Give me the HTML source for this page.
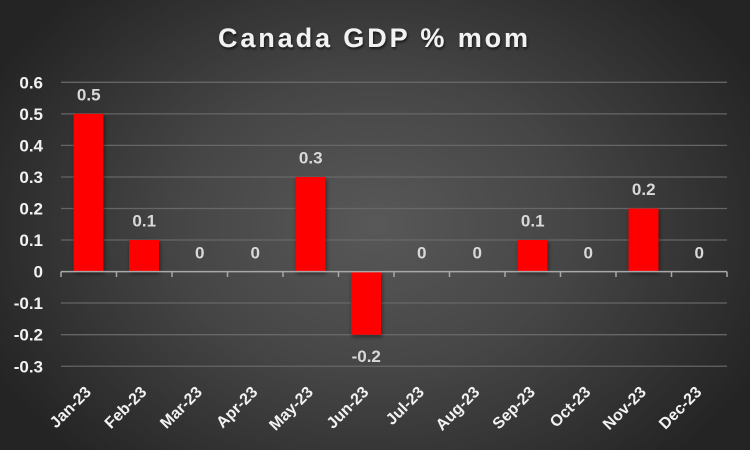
<!DOCTYPE html>
<html>
<head>
<meta charset="utf-8">
<style>
html,body{margin:0;padding:0;background:#2a2a2a;}
svg{display:block;}
text{font-family:"Liberation Sans",sans-serif;font-weight:bold;}
</style>
</head>
<body>
<svg width="750" height="450" viewBox="0 0 750 450" xmlns="http://www.w3.org/2000/svg">
<defs>
<radialGradient id="bg" cx="375" cy="225" r="430" gradientUnits="userSpaceOnUse" gradientTransform="translate(375 225) scale(1 0.75) translate(-375 -225)">
<stop offset="0" stop-color="#585858"/>
<stop offset="0.45" stop-color="#464646"/>
<stop offset="1" stop-color="#242424"/>
</radialGradient>
<filter id="sh" x="-20%" y="-20%" width="150%" height="150%">
<feGaussianBlur in="SourceAlpha" stdDeviation="2"/>
<feOffset dx="1" dy="2"/>
<feComponentTransfer><feFuncA type="linear" slope="0.5"/></feComponentTransfer>
<feMerge><feMergeNode/><feMergeNode in="SourceGraphic"/></feMerge>
</filter>
<filter id="tsh" x="-10%" y="-30%" width="120%" height="160%">
<feGaussianBlur in="SourceAlpha" stdDeviation="1.2"/>
<feOffset dx="1" dy="2"/>
<feComponentTransfer><feFuncA type="linear" slope="0.6"/></feComponentTransfer>
<feMerge><feMergeNode/><feMergeNode in="SourceGraphic"/></feMerge>
</filter>
</defs>
<rect x="0" y="0" width="750" height="450" fill="url(#bg)"/>

<text x="373" y="47" font-size="27" fill="#f2f2f2" text-anchor="middle" textLength="310" lengthAdjust="spacing" filter="url(#tsh)">Canada GDP % mom</text>

<g stroke="#6b6b6b" stroke-width="1.3" opacity="0.9">
<line x1="61" x2="727" y1="82.3" y2="82.3"/>
<line x1="61" x2="727" y1="113.85" y2="113.85"/>
<line x1="61" x2="727" y1="145.4" y2="145.4"/>
<line x1="61" x2="727" y1="177" y2="177"/>
<line x1="61" x2="727" y1="208.5" y2="208.5"/>
<line x1="61" x2="727" y1="240" y2="240"/>
<line x1="61" x2="727" y1="303" y2="303"/>
<line x1="61" x2="727" y1="334.7" y2="334.7"/>
<line x1="61" x2="727" y1="366.25" y2="366.25"/>
</g>

<g font-size="17" fill="#f2f2f2" text-anchor="end">
<text x="43" y="88.3">0.6</text>
<text x="43" y="119.9">0.5</text>
<text x="43" y="151.4">0.4</text>
<text x="43" y="183">0.3</text>
<text x="43" y="214.5">0.2</text>
<text x="43" y="246">0.1</text>
<text x="43" y="277.6">0</text>
<text x="43" y="309">-0.1</text>
<text x="43" y="340.7">-0.2</text>
<text x="43" y="372.3">-0.3</text>
</g>

<g fill="#ff0000" filter="url(#sh)">
<rect x="73.5" y="113.85" width="30" height="157.75"/>
<rect x="129" y="240" width="30" height="31.6"/>
<rect x="295.5" y="177" width="30" height="94.6"/>
<rect x="351" y="271.6" width="30" height="63.1"/>
<rect x="517.5" y="240" width="30" height="31.6"/>
<rect x="628.5" y="208.5" width="30" height="63.1"/>
</g>

<g stroke="#a8a8a8" stroke-width="1.5">
<line x1="61" x2="727" y1="271.6" y2="271.6"/>
<line x1="61" x2="61" y1="271.6" y2="277"/>
<line x1="116.5" x2="116.5" y1="271.6" y2="277"/>
<line x1="172" x2="172" y1="271.6" y2="277"/>
<line x1="227.5" x2="227.5" y1="271.6" y2="277"/>
<line x1="283" x2="283" y1="271.6" y2="277"/>
<line x1="338.5" x2="338.5" y1="271.6" y2="277"/>
<line x1="394" x2="394" y1="271.6" y2="277"/>
<line x1="449.5" x2="449.5" y1="271.6" y2="277"/>
<line x1="505" x2="505" y1="271.6" y2="277"/>
<line x1="560.5" x2="560.5" y1="271.6" y2="277"/>
<line x1="616" x2="616" y1="271.6" y2="277"/>
<line x1="671.5" x2="671.5" y1="271.6" y2="277"/>
<line x1="727" x2="727" y1="271.6" y2="277"/>
</g>

<g font-size="17" fill="#d9d9d9" text-anchor="middle">
<text x="88.75" y="100.5">0.5</text>
<text x="144.25" y="226.5">0.1</text>
<text x="199.75" y="258.5">0</text>
<text x="255.25" y="258.5">0</text>
<text x="310.75" y="163.5">0.3</text>
<text x="366.25" y="362">-0.2</text>
<text x="421.75" y="258.5">0</text>
<text x="477.25" y="258.5">0</text>
<text x="532.75" y="226.5">0.1</text>
<text x="588.25" y="258.5">0</text>
<text x="643.75" y="195">0.2</text>
<text x="699.25" y="258.5">0</text>
</g>

<g font-size="16" fill="#f2f2f2" text-anchor="end">
<text transform="translate(92,393) rotate(-45)">Jan-23</text>
<text transform="translate(147.5,393) rotate(-45)">Feb-23</text>
<text transform="translate(203,393) rotate(-45)">Mar-23</text>
<text transform="translate(258.5,393) rotate(-45)">Apr-23</text>
<text transform="translate(314,393) rotate(-45)">May-23</text>
<text transform="translate(369.5,393) rotate(-45)">Jun-23</text>
<text transform="translate(425,393) rotate(-45)">Jul-23</text>
<text transform="translate(480.5,393) rotate(-45)">Aug-23</text>
<text transform="translate(536,393) rotate(-45)">Sep-23</text>
<text transform="translate(591.5,393) rotate(-45)">Oct-23</text>
<text transform="translate(647,393) rotate(-45)">Nov-23</text>
<text transform="translate(702.5,393) rotate(-45)">Dec-23</text>
</g>
</svg>
</body>
</html>
